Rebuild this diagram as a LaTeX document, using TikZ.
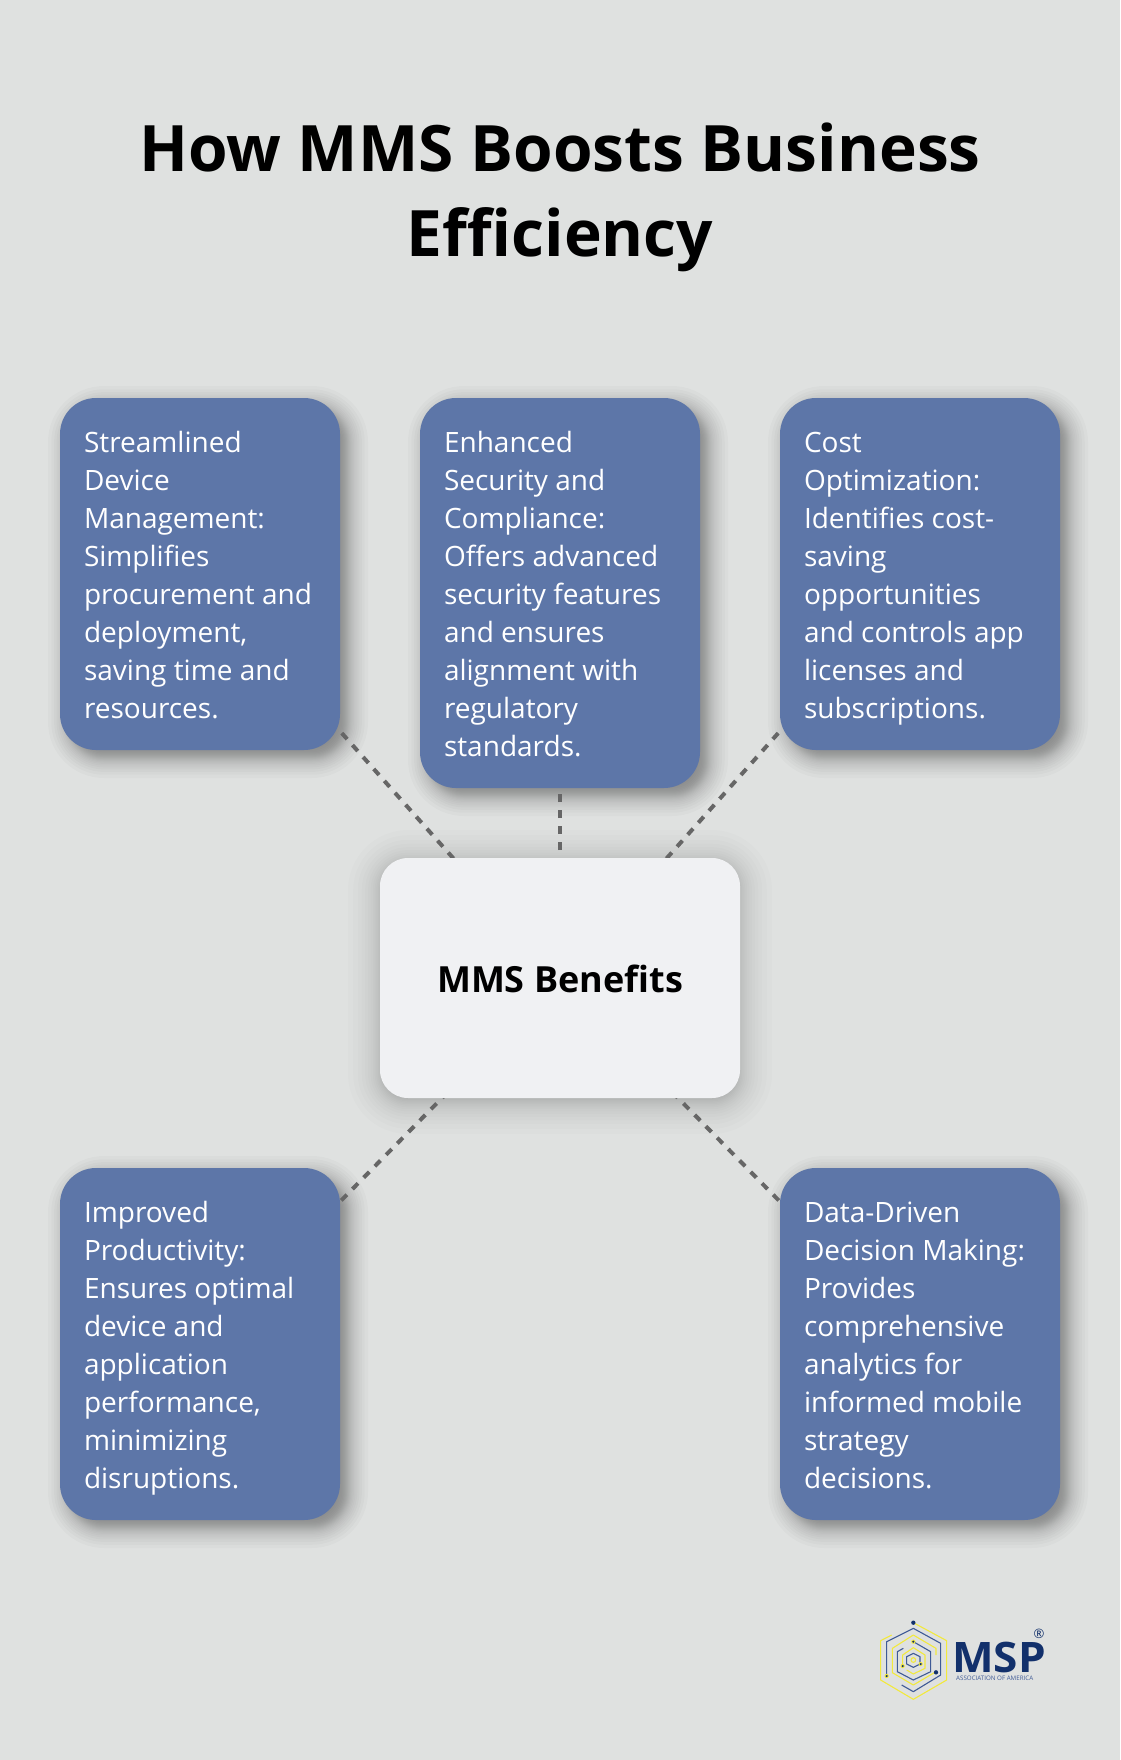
\documentclass[tikz,border=0pt]{standalone}
\usepackage{fontspec}
\setmainfont{Open Sans}
\usetikzlibrary{calc}
\definecolor{pagebg}{HTML}{DFE1E0}
\definecolor{cardblue}{HTML}{5D76A8}
\definecolor{hubfill}{HTML}{F0F1F3}
\definecolor{dashgrey}{HTML}{666666}
\definecolor{navy}{HTML}{12306B}
\definecolor{logoyellow}{HTML}{F2E93C}
\definecolor{logoblue}{HTML}{3F5A96}
\pgfdeclarelayer{shadowlayer}
\pgfdeclarelayer{linklayer}
\pgfsetlayers{shadowlayer,linklayer,main}
\tikzset{
  card/.style={rectangle,fill=cardblue,rounded corners=36pt,minimum width=280pt,inner sep=0pt,outer sep=0pt},
  cardtext/.style={anchor=north west,inner sep=0pt,outer sep=0pt,align=left,text=white,font=\fontsize{28}{38}\selectfont,execute at begin node=\strut},
  hub/.style={rectangle,fill=hubfill,rounded corners=28pt,minimum width=360pt,minimum height=240pt,inner sep=0pt,outer sep=0pt,text height=30pt,text depth=0.4pt,font=\bfseries\fontsize{36}{38}\selectfont,text=black},
  titletext/.style={align=center,inner sep=0pt,font=\bfseries\fontsize{64}{85}\selectfont,text=black},
  link/.style={draw=dashgrey,line width=4pt,dash pattern=on 8pt off 8pt},
  ly/.style={draw=logoyellow,line width=1.1pt,line join=round},
  lb/.style={draw=logoblue,line width=1.1pt,line join=round},
}
% softshadow{node}{radius}{dx}{dy}{blur}{opacity per step}
\newcommand{\softshadow}[6]{%
  \foreach \i in {0,...,23}{%
    \pgfmathsetmacro{\t}{(\i-11.5)/11.5}%
    \pgfmathsetmacro{\o}{(0.5*\t+0.5*\t*\t*\t)*#5}%
    \pgfmathsetmacro{\r}{max(#2+\o,2)}%
    \fill[black,fill opacity=#6,rounded corners=\r pt]
      ([shift={(#3-\o,#4-\o)}]#1.north west) rectangle ([shift={(#3+\o,#4+\o)}]#1.south east);
  }%
}
\newcommand{\cardtxt}[4]{\node[cardtext] (#1) at (#2+24,#3+33.4) {#4};}
\begin{document}
\begin{tikzpicture}[x=1pt,y=-1pt]
\useasboundingbox (0,0) rectangle (1120,1760);
\begin{pgfonlayer}{shadowlayer}
\fill[pagebg] (0,0) rectangle (1120,1760);
\end{pgfonlayer}

\node[titletext] (title) at (560,197) {How MMS Boosts Business\\Efficiency};

\node[card,minimum height=352pt] (c1) at (200,574) {};
\node[card,minimum height=390pt] (c2) at (560,593) {};
\node[card,minimum height=352pt] (c3) at (920,574) {};
\node[card,minimum height=352pt] (c4) at (200,1344) {};
\node[card,minimum height=352pt] (c5) at (920,1344) {};
\node[hub] (hub) at (560,978) {MMS Benefits};

\cardtxt{t1}{60}{398}{Streamlined\\Device\\Management:\\Simplifies\\procurement and\\deployment,\\saving time and\\resources.}
\cardtxt{t2}{420}{398}{Enhanced\\Security and\\Compliance:\\Offers advanced\\security features\\and ensures\\alignment with\\regulatory\\standards.}
\cardtxt{t3}{780}{399}{Cost\\Optimization:\\Identifies cost-\\saving\\opportunities\\and controls app\\licenses and\\subscriptions.}
\cardtxt{t4}{60}{1168}{Improved\\Productivity:\\Ensures optimal\\device and\\application\\performance,\\minimizing\\disruptions.}
\cardtxt{t5}{780}{1169}{Data-Driven\\Decision Making:\\Provides\\comprehensive\\analytics for\\informed mobile\\strategy\\decisions.}

\begin{pgfonlayer}{shadowlayer}
\foreach \n in {c1,c2,c3,c4,c5}{\softshadow{\n}{36}{8}{8}{20}{0.02}}
\softshadow{hub}{28}{0}{4}{32}{0.011}
\end{pgfonlayer}
\begin{pgfonlayer}{linklayer}
\foreach \n in {c1,c2,c3,c4,c5}{\draw[link] (hub.center) -- (\n.center);}
\end{pgfonlayer}

% logo
\begin{scope}[shift={(860,1600)},x=0.3333pt,y=-0.3333pt]
\draw[ly] (95,105)--(62,122)--(62,240)--(160,298)--(260,240)--(260,122)--(160,68);
\draw[lb] (80,228)--(80,125)--(160,85)--(242,130)--(242,225)--(160,275)--(125,255);
\draw[ly] (228,215)--(160,255)--(97,218)--(97,145)--(160,105)--(228,145)--(228,165);
\draw[lb] (160,125)--(212,155)--(212,215)--(160,240)--(112,215)--(112,155)--(130,145);
\draw[ly] (128,198)--(128,165)--(160,143)--(195,165)--(195,205)--(160,222)--(140,210);
\draw[lb] (160,160)--(180,170)--(180,192)--(160,202)--(140,192)--(140,170)--cycle;
\draw[ly] (160,180) circle (7);
\foreach \p/\f/\g in {160/68/navy,80/228/logoyellow,160/125/logoyellow,128/198/logoyellow,182/192/logoyellow,228/217/navy}{
  \fill[\g] (\p,\f) circle (6.5);
  \fill[navy] (\p,\f) circle (3.5);
}
\end{scope}
\node[inner sep=0pt,anchor=base west,text=navy,font=\bfseries\fontsize{42}{42}\selectfont] (msp) at (952,1672) {\scalebox{1.05}[1]{MSP}};
\node[inner sep=0pt,anchor=base west,text=logoblue,font=\fontsize{6.2}{6}\selectfont] (assoc) at (956,1680.5) {ASSOCIATION OF AMERICA};
\node[inner sep=0pt,text=navy,font=\fontsize{13}{13}\selectfont] (reg) at (1039,1634) {®};
\end{tikzpicture}
\end{document}
